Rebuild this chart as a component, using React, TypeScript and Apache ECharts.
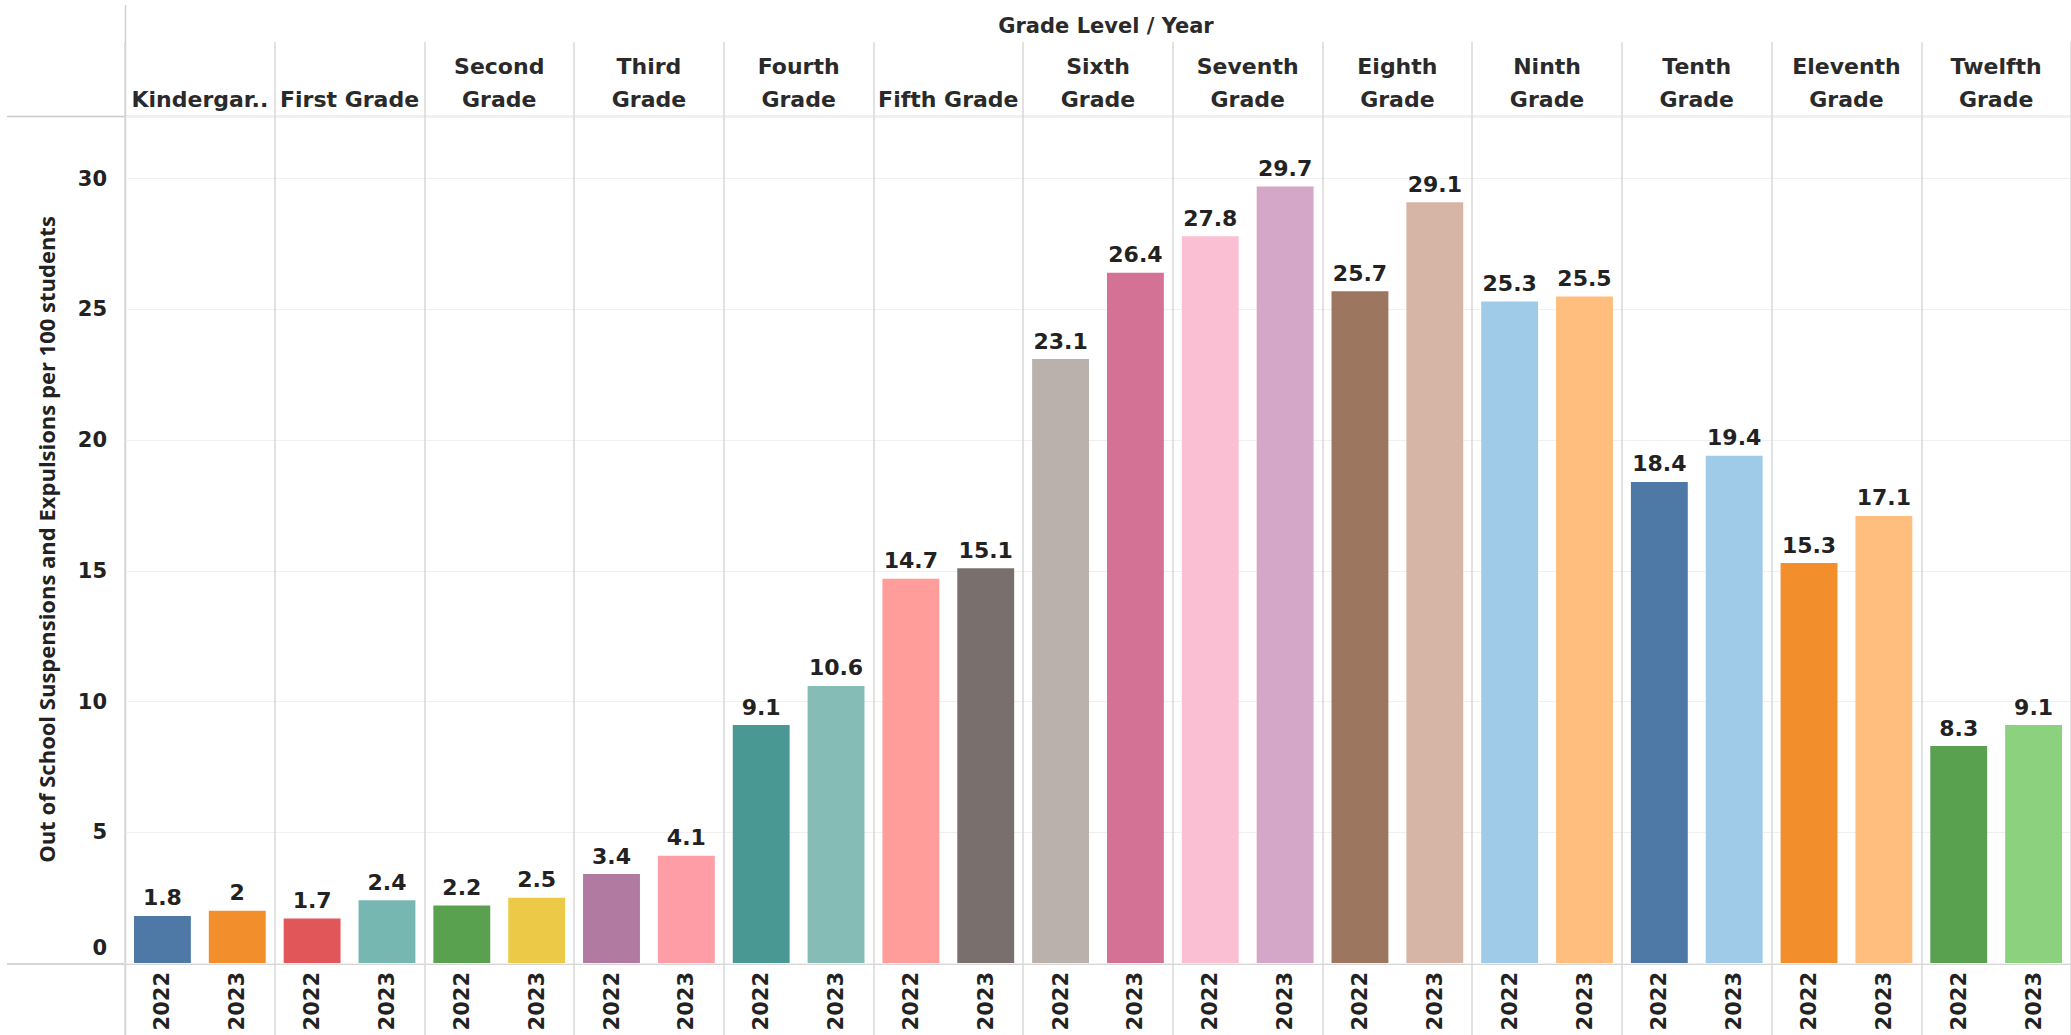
import React, { useEffect, useRef } from "react";
import * as echarts from "echarts";

const gradeHeaders = [
  "Kindergar..",
  "First Grade",
  "Second\nGrade",
  "Third\nGrade",
  "Fourth\nGrade",
  "Fifth Grade",
  "Sixth\nGrade",
  "Seventh\nGrade",
  "Eighth\nGrade",
  "Ninth\nGrade",
  "Tenth\nGrade",
  "Eleventh\nGrade",
  "Twelfth\nGrade",
];
const years = ["2022", "2023"];
const values2022 = [1.8, 1.7, 2.2, 3.4, 9.1, 14.7, 23.1, 27.8, 25.7, 25.3, 18.4, 15.3, 8.3];
const values2023 = [2, 2.4, 2.5, 4.1, 10.6, 15.1, 26.4, 29.7, 29.1, 25.5, 19.4, 17.1, 9.1];
const colors2022 = ["#4e79a7", "#e15759", "#59a14f", "#b07aa1", "#499894", "#ff9d9a", "#bab0ac", "#fabfd2", "#9d7660", "#a0cbe8", "#4e79a7", "#f28e2b", "#59a14f"];
const colors2023 = ["#f28e2b", "#76b7b2", "#edc948", "#ff9da7", "#86bcb6", "#79706e", "#d37295", "#d4a6c8", "#d7b5a6", "#ffbe7d", "#a0cbe8", "#ffbe7d", "#8cd17d"];
const yTicks = [0, 5, 10, 15, 20, 25, 30];
const yAxisTitle = "Out of School Suspensions and Expulsions per 100 students";
const headerTitle = "Grade Level / Year";

const BOLD = "DejaVu Sans";
const TXT = "#222";
const SEP = "#d9d9d9";

export default function App() {
  const ref = useRef<HTMLDivElement>(null);
  useEffect(() => {
    if (!ref.current) return;
    const chart = echarts.init(ref.current, undefined, { renderer: "svg" });
    const cats: string[] = [];
    const data: any[] = [];
    gradeHeaders.forEach((g, i) => {
      const vals = [values2022[i], values2023[i]];
      const cols = [colors2022[i], colors2023[i]];
      years.forEach((y, j) => {
        cats.push(i + "|" + y);
        data.push({ value: vals[j], itemStyle: { color: cols[j] } });
      });
    });
    const option: any = {
      animation: false,
      backgroundColor: "#ffffff",
      grid: { left: 125, top: 116, width: 1956.5, height: 847 },
      xAxis: [
        {
          type: "category",
          data: cats,
          position: "bottom",
          axisLine: { show: false },
          axisTick: { show: false },
          splitLine: { show: false },
          axisLabel: {
            interval: 0,
            rotate: 90,
            margin: 9,
            fontFamily: BOLD,
            fontWeight: "bold",
            fontSize: 21,
            color: TXT,
            formatter: (v: string) => v.split("|")[1],
          },
        },
        {
          type: "category",
          data: gradeHeaders,
          position: "top",
          axisLine: { show: false },
          axisTick: { show: true, interval: 0, length: 74, lineStyle: { color: SEP, width: 1.5 } },
          splitLine: { show: true, interval: 0, lineStyle: { color: SEP, width: 1.5 } },
          axisLabel: {
            interval: 0,
            margin: 0,
            fontFamily: BOLD,
            fontWeight: "bold",
            fontSize: 22,
            lineHeight: 33,
            color: "#2a2a2a",
          },
        },
        {
          type: "category",
          data: gradeHeaders,
          position: "bottom",
          axisLine: { show: false },
          axisTick: { show: true, interval: 0, length: 72, lineStyle: { color: SEP, width: 1.5 } },
          axisLabel: { show: false },
          splitLine: { show: false },
        },
      ],
      yAxis: {
        type: "value",
        min: 0,
        max: 32.4,
        interval: 5,
        name: yAxisTitle,
        nameLocation: "middle",
        nameRotate: 90,
        nameGap: 68,
        nameTextStyle: { fontFamily: "Open Sans", fontWeight: 700, fontSize: 22, color: TXT },
        axisLine: { show: false },
        axisTick: { show: false },
        splitLine: { show: true, lineStyle: { color: "#f0f0f0", width: 1 } },
        axisLabel: {
          margin: 18,
          fontFamily: BOLD,
          fontWeight: "bold",
          fontSize: 21,
          color: TXT,
          formatter: (v: number) => {
            if (v === yTicks[0]) return "{z|" + v + "}";
            return yTicks.indexOf(v) >= 0 ? String(v) : "";
          },
          rich: {
            z: { fontFamily: BOLD, fontWeight: "bold", fontSize: 21, color: TXT, padding: [0, 0, 30, 0] },
          },
        },
      },
      series: [
        {
          type: "bar",
          xAxisIndex: 0,
          data,
          barCategoryGap: "24%",
          label: {
            show: true,
            position: "top",
            distance: 7,
            fontFamily: BOLD,
            fontWeight: "bold",
            fontSize: 22,
            color: TXT,
          },
        },
      ],
      graphic: [
        { type: "line", silent: true, shape: { x1: 125.5, y1: 5, x2: 125.5, y2: 1035 }, style: { stroke: "#cfcfcf", lineWidth: 1.5 } },
        { type: "line", silent: true, shape: { x1: 7, y1: 116.5, x2: 2071, y2: 116.5 }, style: { stroke: "#c8c8c8", lineWidth: 1.5 } },
        { type: "line", silent: true, shape: { x1: 7, y1: 964, x2: 2071, y2: 964 }, style: { stroke: "#c8c8c8", lineWidth: 1.5 } },
        {
          type: "text",
          silent: true,
          x: 1106,
          y: 26,
          style: {
            text: headerTitle,
            fontFamily: BOLD,
            fontWeight: "bold",
            fontSize: 21,
            fill: "#2a2a2a",
            align: "center",
            verticalAlign: "middle",
          },
        },
      ],
    };
    chart.setOption(option);
    return () => chart.dispose();
  }, []);
  return (
    <div
      ref={ref}
      style={{ position: "fixed", left: 0, top: 0, width: 2071, height: 1035, background: "#fff" }}
    />
  );
}
